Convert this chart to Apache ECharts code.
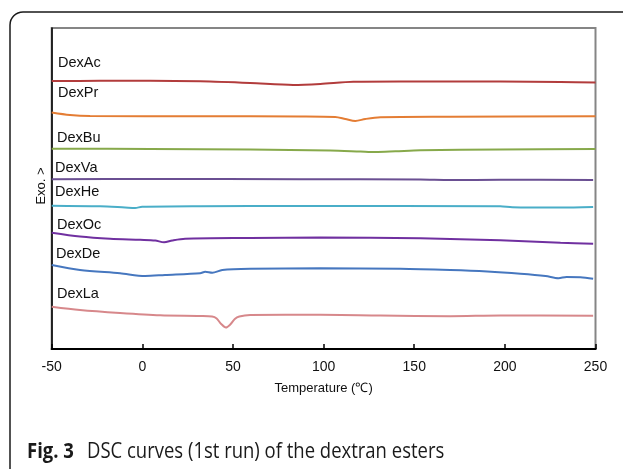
<!DOCTYPE html>
<html>
<head>
<meta charset="utf-8">
<script src="https://cdn.jsdelivr.net/npm/echarts@6/dist/echarts.min.js"></script>
<style>
html,body{margin:0;padding:0;background:#fff;}
#chart{width:623px;height:469px;}
</style>
</head>
<body>
<div id="chart"></div>
<script>
// Tick labels of the temperature axis
const xTicks = [-50, 0, 50, 100, 150, 200, 250];
const seriesNames = ['DexAc', 'DexPr', 'DexBu', 'DexVa', 'DexHe', 'DexOc', 'DexDe', 'DexLa'];

// Temperatures (°C) and heat-flow signal (arbitrary units, exo up) for each curve
const tDexAc = [-50, -23.3, 4.3, 31.9, 59.5, 83.2, 98.2, 116.4, 142.3, 197.5, 230.7, 250];
const yDexAc = [268, 268.2, 268.3, 267.7, 266, 264, 265, 267.2, 267.5, 267.4, 267, 266.5];

const tDexPr = [-50, -39.9, -28.8, 31.9, 87.1, 106.4, 112.0, 117.5, 123.0, 131.3, 169.9, 250];
const yDexPr = [236.5, 234, 233, 232.7, 232.5, 232, 230, 228, 230, 231.7, 232.2, 232.8];

const tDexBu = [-50, 4.3, 59.5, 103.7, 120.3, 128.5, 139.6, 153.4, 197.5, 250];
const yDexBu = [200.3, 200, 199.5, 198.5, 197.5, 197, 197.7, 198.7, 199.5, 200];

const tDexVa = [-50, 4.3, 87.1, 153.4, 169.9, 197.5, 248.7];
const yDexVa = [169.7, 170, 169.8, 169.5, 169, 169.2, 169];

const tDexHe = [-50, -23.3, -9.5, -4.0, -0.1, 31.9, 87.1, 197.5, 204.1, 230.7, 248.7];
const yDexHe = [143.3, 142.7, 141.5, 141, 142.2, 142.8, 143, 142.7, 141.7, 141.4, 142.1];

const tDexOc = [-50, -34.4, -17.8, -1.2, 7.1, 12.0, 16.5, 23.6, 59.5, 98.2, 153.4, 197.5, 230.7, 248.7];
const yDexOc = [116.3, 112.5, 110.3, 109.2, 108.5, 106.7, 108.5, 110.2, 111, 111.5, 110.7, 108.7, 106.2, 105.3];

const tDexDe = [-50, -34.4, -12.3, 1.5, 12.5, 31.9, 34.7, 38.6, 44.1, 59.5, 98.2, 142.3, 169.9, 190.3, 208.6, 222.4, 229.6, 234.0, 241.7, 248.7];
const yDexDe = [84, 79, 75.7, 73, 74, 75.8, 77.3, 76.3, 79, 80.2, 80.7, 80.3, 79, 77.5, 75.3, 73, 70.8, 72, 71.8, 70.3];

const tDexLa = [-50, -34.4, -12.3, 9.8, 31.9, 38.5, 41.0, 43.5, 46.1, 48.5, 51.0, 53.5, 59.5, 98.2, 131.3, 169.9, 197.5, 248.7];
const yDexLa = [42.3, 39, 36, 33.7, 33, 32.5, 30.5, 25, 21.5, 24.5, 30, 32.5, 34, 34.3, 33.5, 32.8, 33.5, 33.3];

const curveT = [tDexAc, tDexPr, tDexBu, tDexVa, tDexHe, tDexOc, tDexDe, tDexLa];
const curveY = [yDexAc, yDexPr, yDexBu, yDexVa, yDexHe, yDexOc, yDexDe, yDexLa];
const colors = ['#b23c3c', '#e47d34', '#87a94b', '#6a4f92', '#4aaec8', '#7030a0', '#4677bf', '#d7888b'];
// label positions (layout only)
const labelPos = [[58, 63], [58, 93], [57, 138], [55, 168], [55, 192], [57, 225], [56, 254], [57, 294]];

const chart = echarts.init(document.getElementById('chart'), null, {renderer: 'canvas'});

const series = seriesNames.map((name, i) => ({
  name: name,
  type: 'line',
  data: curveT[i].map((t, k) => [t, curveY[i][k]]),
  showSymbol: false,
  smooth: 0.3,
  lineStyle: {color: colors[i], width: 2},
  itemStyle: {color: colors[i]},
  silent: true,
  z: 3
}));

const graphics = [
  {
    type: 'rect', z: 0, silent: true,
    shape: {x: 10, y: 12, width: 800, height: 700, r: 13},
    style: {fill: 'none', stroke: '#1a1a1a', lineWidth: 1.5}
  },
  {
    type: 'text', silent: true, z: 10,
    x: 41.5, y: 186, rotation: Math.PI / 2,
    style: {text: 'Exo. >', font: '13px "Liberation Sans", Arial, sans-serif', fill: '#111', align: 'center', verticalAlign: 'middle'}
  },
  {
    type: 'text', silent: true, z: 10,
    x: 27, y: 451.5, scaleX: 0.84,
    style: {text: 'Fig. 3', font: 'bold 22px "Open Sans", sans-serif', fill: '#1a1a1a', verticalAlign: 'middle'}
  },
  {
    type: 'text', silent: true, z: 10,
    x: 87, y: 451.5, scaleX: 0.84,
    style: {text: 'DSC curves (1st run) of the dextran esters', font: '22px "Open Sans", sans-serif', fill: '#1a1a1a', verticalAlign: 'middle'}
  }
];
seriesNames.forEach((name, i) => {
  graphics.push({
    type: 'text', silent: true, z: 10,
    x: labelPos[i][0], y: labelPos[i][1],
    style: {text: name, font: '14.5px "Liberation Sans", Arial, sans-serif', fill: '#111', align: 'left', verticalAlign: 'middle'}
  });
});

chart.setOption({
  animation: false,
  backgroundColor: '#fff',
  grid: {
    left: 51.7, right: 27.5, top: 28, bottom: 120,
    show: true, borderColor: '#858585', borderWidth: 2, backgroundColor: 'transparent'
  },
  xAxis: {
    type: 'value',
    min: -50, max: 250, interval: 50,
    name: 'Temperature (℃)',
    nameLocation: 'middle',
    nameGap: 33,
    nameTextStyle: {fontFamily: '"Liberation Sans", Arial, sans-serif', fontSize: 13, color: '#111'},
    axisLine: {show: true, onZero: false, lineStyle: {color: '#000', width: 2}},
    axisTick: {show: true, inside: true, length: 5, lineStyle: {color: '#000', width: 1.5}},
    axisLabel: {
      show: true, margin: 11, color: '#111', fontSize: 14,
      fontFamily: '"Liberation Sans", Arial, sans-serif',
      formatter: v => xTicks.includes(v) ? String(v) : ''
    },
    splitLine: {show: false}
  },
  yAxis: {
    type: 'value',
    min: 0, max: 321,
    axisLine: {show: true, onZero: false, lineStyle: {color: '#000', width: 1.5}},
    axisTick: {show: false},
    axisLabel: {show: false},
    splitLine: {show: false}
  },
  series: series,
  graphic: graphics
});
</script>
</body>
</html>
